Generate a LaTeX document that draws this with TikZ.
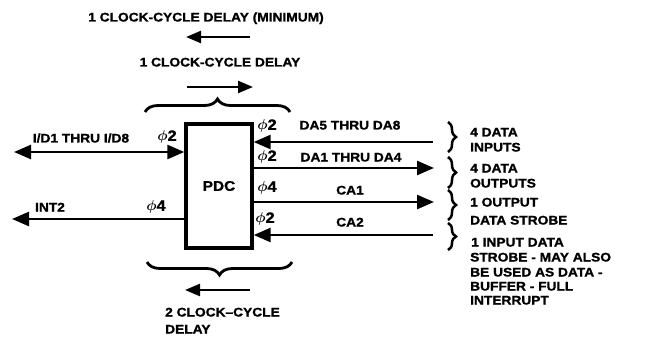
\documentclass[tikz,border=0pt]{standalone}
\usepackage{fontspec}
\setmainfont{Liberation Sans}[FakeStretch=1.1, FakeBold=1.2]
\usepackage{amsmath,bm}
\usetikzlibrary{arrows.meta,decorations.pathreplacing}
\begin{document}
\begin{tikzpicture}[x=1pt,y=-1pt,
  lab/.style={font=\fontsize{12.5}{14}\selectfont\bfseries, inner sep=0pt, text height=9pt, text depth=0pt},
  phisym/.style={font=\fontsize{15}{15}\selectfont, inner sep=0pt},
  sig/.style={line width=2.6pt},
  bigtip/.style={-{Triangle[length=17pt,width=14pt]}},
  bothtip/.style={{Triangle[length=17pt,width=14pt]}-{Triangle[length=17pt,width=14pt]}},
  delayarrow/.style={line width=2.3pt,-{Triangle[length=15pt,width=12pt]}},
  bigbrace/.style={line width=2.8pt, decorate, decoration={brace, amplitude=13pt}},
  smallbrace/.style={line width=2.5pt, decorate, decoration={brace, amplitude=8pt}},
  box/.style={draw, line width=3.4pt, minimum width=66pt, minimum height=124pt, inner sep=0pt}
]
\useasboundingbox (0,0) rectangle (649,337);

% top labels and arrows
\node[lab] (ttl1) at (206,17) {1 CLOCK-CYCLE DELAY (MINIMUM)};
\coordinate (a1s) at (250,37); \coordinate (a1e) at (186,37);
\draw[delayarrow] (a1s) -- (a1e);
\node[lab] (ttl2) at (220,62) {1 CLOCK-CYCLE DELAY};
\coordinate (a2s) at (187,87); \coordinate (a2e) at (253,87);
\draw[delayarrow] (a2s) -- (a2e);
\coordinate (b1s) at (145,112); \coordinate (b1e) at (290,112);
\draw[bigbrace] (b1s) -- (b1e);

% PDC box
\node[box, font=\fontsize{14}{14}\selectfont\bfseries] (pdc) at (219,186) {PDC};

% left side
\coordinate (idL) at (14,152);
\draw[sig, bothtip] (idL) -- (pdc.west |- idL);
\node[lab] (idlab) at (81,138) {I/D1 THRU I/D8};
\node[phisym] (phiL1) at (167,137) {$\bm{\phi}$\textbf{2}};
\coordinate (intL) at (12,219);
\draw[sig, bigtip] (pdc.west |- intL) -- (intL);
\node[lab] (intlab) at (50,207) {INT2};
\node[phisym] (phiL2) at (156,207) {$\bm{\phi}$\textbf{4}};

% right side lines
\coordinate (da5R) at (433,142);
\draw[sig, bigtip] (da5R) -- (pdc.east |- da5R);
\coordinate (da1R) at (434,168);
\draw[sig, bigtip] (pdc.east |- da1R) -- (da1R);
\coordinate (ca1R) at (434,202);
\draw[sig, bigtip] (pdc.east |- ca1R) -- (ca1R);
\coordinate (ca2R) at (433,235);
\draw[sig, bigtip] (ca2R) -- (pdc.east |- ca2R);

\node[phisym] (phiR1) at (267,126) {$\bm{\phi}$\textbf{2}};
\node[lab] (da5lab) at (350,125) {DA5 THRU DA8};
\node[phisym] (phiR2) at (267,157) {$\bm{\phi}$\textbf{2}};
\node[lab] (da1lab) at (351,157) {DA1 THRU DA4};
\node[phisym] (phiR3) at (267,188) {$\bm{\phi}$\textbf{4}};
\node[lab] (ca1lab) at (350,190) {CA1};
\node[phisym] (phiR4) at (265,219) {$\bm{\phi}$\textbf{2}};
\node[lab] (ca2lab) at (350,222) {CA2};

% right braces
\coordinate (r1s) at (448,122); \coordinate (r1e) at (448,152);
\draw[smallbrace] (r1s) -- (r1e);
\coordinate (r2s) at (448,157); \coordinate (r2e) at (448,188);
\draw[smallbrace] (r2s) -- (r2e);
\coordinate (r3s) at (448,190); \coordinate (r3e) at (448,220);
\draw[smallbrace] (r3s) -- (r3e);
\coordinate (r4s) at (448,223); \coordinate (r4e) at (448,250);
\draw[smallbrace] (r4s) -- (r4e);

% right labels
\node[lab, anchor=west] (g1a) at (470,132) {4 DATA};
\node[lab, anchor=west] (g1b) at (470,147) {INPUTS};
\node[lab, anchor=west] (g2a) at (470,168) {4 DATA};
\node[lab, anchor=west] (g2b) at (470,183) {OUTPUTS};
\node[lab, anchor=west] (g3a) at (470,202) {1 OUTPUT};
\node[lab, anchor=west] (g3b) at (470,220) {DATA STROBE};
\node[lab, anchor=west] (g4a) at (471,242) {1 INPUT DATA};
\node[lab, anchor=west] (g4b) at (470,257) {STROBE - MAY ALSO};
\node[lab, anchor=west] (g4c) at (470,272) {BE USED AS DATA -};
\node[lab, anchor=west] (g4d) at (470,286) {BUFFER - FULL};
\node[lab, anchor=west] (g4e) at (470,300) {INTERRUPT};

% bottom
\coordinate (b2s) at (292,262); \coordinate (b2e) at (147,262);
\draw[bigbrace] (b2s) -- (b2e);
\coordinate (a3s) at (250,290); \coordinate (a3e) at (185,290);
\draw[delayarrow] (a3s) -- (a3e);
\node[lab, anchor=west] (bot1) at (165,312) {2 CLOCK\textendash CYCLE};
\node[lab, anchor=west] (bot2) at (165,329) {DELAY};
\end{tikzpicture}
\end{document}
